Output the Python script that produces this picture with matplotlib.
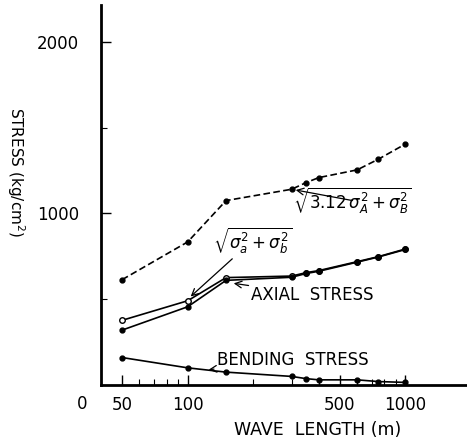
import matplotlib
matplotlib.use("Agg")
import matplotlib.pyplot as plt
from matplotlib.ticker import FixedLocator, NullFormatter, LogLocator

# Data
wave_length = [50, 100, 150, 300, 350, 400, 600, 750, 1000]
combined_3_12 = [614, 834, 1075, 1141, 1180, 1209, 1254, 1316, 1405]
combined = [377, 491, 626, 635, 655, 667, 719, 748, 793]
axial = [320, 456, 610, 628, 650, 663, 716, 746, 790]
bending = [160, 100, 75, 50, 37, 30, 30, 20, 15]

x_ticks = [50, 100, 500, 1000]
x_tick_labels = ["50", "100", "500", "1000"]
y_ticks = [1000, 2000]
y_tick_labels = ["1000", "2000"]

plt.rcParams['font.family'] = ['DejaVu Sans']
fig = plt.figure(figsize=(4.67, 4.41), dpi=100)
ax = fig.add_axes([0.2163, 0.127, 0.782, 0.862])

lw = 1.2
ax.plot(wave_length, combined_3_12, color='black', lw=lw, ls=(0, (4, 2)),
        marker='o', ms=3.5)
ax.plot(wave_length, combined, color='black', lw=lw, marker='o', ms=4,
        mfc='white', mew=1.0)
ax.plot(wave_length, axial, color='black', lw=lw, marker='o', ms=3.5)
ax.plot(wave_length, bending, color='black', lw=lw, marker='o', ms=3.5)

ax.set_xscale('log')
ax.set_xlim(40, 1900)
ax.set_ylim(0, 2216)

for s in ['top', 'right']:
    ax.spines[s].set_visible(False)
for s in ['left', 'bottom']:
    ax.spines[s].set_linewidth(2)

ax.xaxis.set_major_locator(FixedLocator(x_ticks))
ax.set_xticklabels(x_tick_labels)
ax.xaxis.set_minor_locator(LogLocator(base=10, subs=range(2, 10)))
ax.xaxis.set_minor_formatter(NullFormatter())
ax.yaxis.set_major_locator(FixedLocator(y_ticks))
ax.set_yticklabels(y_tick_labels)
ax.yaxis.set_minor_locator(FixedLocator([500, 1500]))

ax.tick_params(axis='both', which='major', direction='in', length=7, width=1,
               labelsize=12)
ax.tick_params(axis='x', which='major', pad=8)
ax.tick_params(axis='y', which='major', pad=16)
ax.tick_params(axis='both', which='minor', direction='in', length=4, width=0.8)

ax.text(-0.052, -0.05, "0", transform=ax.transAxes, fontsize=12,
        ha='center', va='center')

fig.text(0.033, 0.61, "STRESS (kg/cm$^2$)", rotation=-90, fontsize=11,
         ha='center', va='center')
fig.text(0.68, 0.025, "WAVE  LENGTH (m)", fontsize=12.5, ha='center',
         va='center')

# Annotations
ax.annotate(r"$\sqrt{3.12\,\sigma_A^2+\sigma_B^2}$", xy=(300, 1141),
            xytext=(305, 1075), fontsize=12, ha='left', va='center',
            arrowprops=dict(arrowstyle='->', lw=0.9, color='black',
                            shrinkA=0, shrinkB=3))
ax.annotate(r"$\sqrt{\sigma_a^2+\sigma_b^2}$", xy=(101, 505),
            xytext=(130, 840), fontsize=12, ha='left', va='center',
            arrowprops=dict(arrowstyle='->', lw=0.9, color='black',
                            shrinkA=0, shrinkB=2))
ax.annotate("AXIAL  STRESS", xy=(158, 595), xytext=(196, 525),
            fontsize=12, ha='left', va='center',
            arrowprops=dict(arrowstyle='->', lw=0.9, color='black',
                            shrinkA=0, shrinkB=2))
ax.annotate("BENDING  STRESS", xy=(123, 88), xytext=(136, 145),
            fontsize=12, ha='left', va='center',
            arrowprops=dict(arrowstyle='->', lw=0.9, color='black',
                            shrinkA=0, shrinkB=1))

fig.savefig("out.png", dpi=100)
